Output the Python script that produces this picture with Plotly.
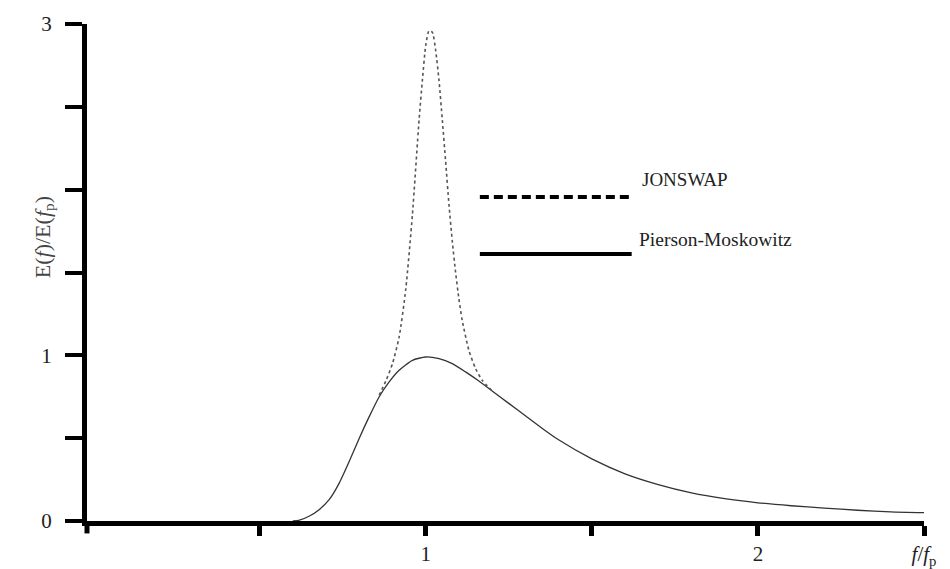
import plotly.graph_objects as go

# Pierson-Moskowitz spectrum
pm_f = [0.60, 0.62, 0.65, 0.68, 0.71, 0.74, 0.77, 0.80, 0.83, 0.86, 0.89, 0.92, 0.96,
        1.00, 1.04, 1.08, 1.12, 1.16, 1.20, 1.25, 1.30, 1.35, 1.40, 1.50, 1.60, 1.70,
        1.80, 1.90, 2.00, 2.10, 2.20, 2.30, 2.40, 2.50]
pm_e = [0.0, 0.005, 0.03, 0.07, 0.13, 0.23, 0.36, 0.50, 0.63, 0.75, 0.84, 0.91, 0.97,
        0.99, 0.98, 0.95, 0.90, 0.845, 0.785, 0.71, 0.635, 0.56, 0.49, 0.375, 0.285, 0.22,
        0.17, 0.135, 0.11, 0.092, 0.078, 0.065, 0.055, 0.05]

# JONSWAP spectrum (peak section)
js_f = [0.86, 0.88, 0.90, 0.92, 0.94, 0.96, 0.98, 0.99, 1.00, 1.01, 1.02, 1.03, 1.04,
        1.05, 1.06, 1.07, 1.08, 1.09, 1.10, 1.11, 1.13, 1.15, 1.17, 1.20]
js_e = [0.76, 0.845, 0.95, 1.11, 1.40, 1.85, 2.42, 2.66, 2.87, 2.96, 2.95, 2.84, 2.66,
        2.42, 2.17, 1.91, 1.69, 1.50, 1.34, 1.21, 1.03, 0.92, 0.85, 0.785]

x_tickvals = [0.5, 1, 1.5, 2, 2.5]
x_ticktext = ["", "1", "", "2", "<i>f</i>/<i>f</i><sub>p</sub>"]
y_tickvals = [0, 0.5, 1, 1.5, 2, 2.5, 3]
y_ticktext = ["0", "", "1", "", "", "", "3"]

legend_names = ["JONSWAP", "Pierson-Moskowitz"]

SERIF = "Liberation Serif"

fig = go.Figure()
fig.add_trace(go.Scatter(x=pm_f, y=pm_e, mode="lines", name="Pierson-Moskowitz",
                         line=dict(color="#333333", width=1.3, shape="spline", smoothing=0.6),
                         showlegend=False))
fig.add_trace(go.Scatter(x=js_f, y=js_e, mode="lines", name="JONSWAP",
                         line=dict(color="#555555", width=1.6, dash="3px,3px",
                                   shape="spline", smoothing=0.6),
                         showlegend=False))

# legend samples (decoration)
fig.add_shape(type="line", xref="x", yref="y", x0=1.163, x1=1.62, y0=1.955, y1=1.955,
              line=dict(color="black", width=4, dash="9px,5px"))
fig.add_shape(type="line", xref="x", yref="y", x0=1.163, x1=1.62, y0=1.611, y1=1.611,
              line=dict(color="black", width=4))
fig.add_annotation(x=1.645, y=2.06, xref="x", yref="y", text=legend_names[0],
                   showarrow=False, xanchor="left", yanchor="middle",
                   font=dict(family=SERIF, size=19, color="#222"))
fig.add_annotation(x=1.636, y=1.70, xref="x", yref="y", text=legend_names[1],
                   showarrow=False, xanchor="left", yanchor="middle",
                   font=dict(family=SERIF, size=19.5, color="#222"))

# y-axis extension below x-axis
fig.add_shape(type="line", xref="paper", yref="paper", x0=0, x1=0, y0=0, y1=-0.025,
              line=dict(color="black", width=5))

# y-axis title
fig.add_annotation(x=-0.0705, y=0.571, xref="paper", yref="paper",
                   text="E(<i>f</i>)/E(<i>f</i><sub>p</sub>)", textangle=-90,
                   showarrow=False, font=dict(family=SERIF, size=22, color="#444"))

fig.update_layout(
    width=950, height=569,
    margin=dict(l=87, r=26, t=24, b=48, autoexpand=False),
    paper_bgcolor="white", plot_bgcolor="white",
    showlegend=False,
    xaxis=dict(range=[-0.0196, 2.5], tickvals=x_tickvals, ticktext=x_ticktext,
               automargin=False,
               showgrid=False, zeroline=False, showline=True, linecolor="black",
               linewidth=5, ticks="outside", ticklen=10, tickwidth=5, tickcolor="black",
               ticklabelstandoff=0,
               tickfont=dict(family=SERIF, size=21, color="#222")),
    yaxis=dict(range=[0, 3], tickvals=y_tickvals, ticktext=y_ticktext,
               automargin=False,
               showgrid=False, zeroline=False, showline=True, linecolor="black",
               linewidth=5, ticks="outside", ticklen=17, tickwidth=4, tickcolor="black",
               ticklabelstandoff=9,
               tickfont=dict(family=SERIF, size=21, color="#222")),
)

fig.write_html("out.html")
